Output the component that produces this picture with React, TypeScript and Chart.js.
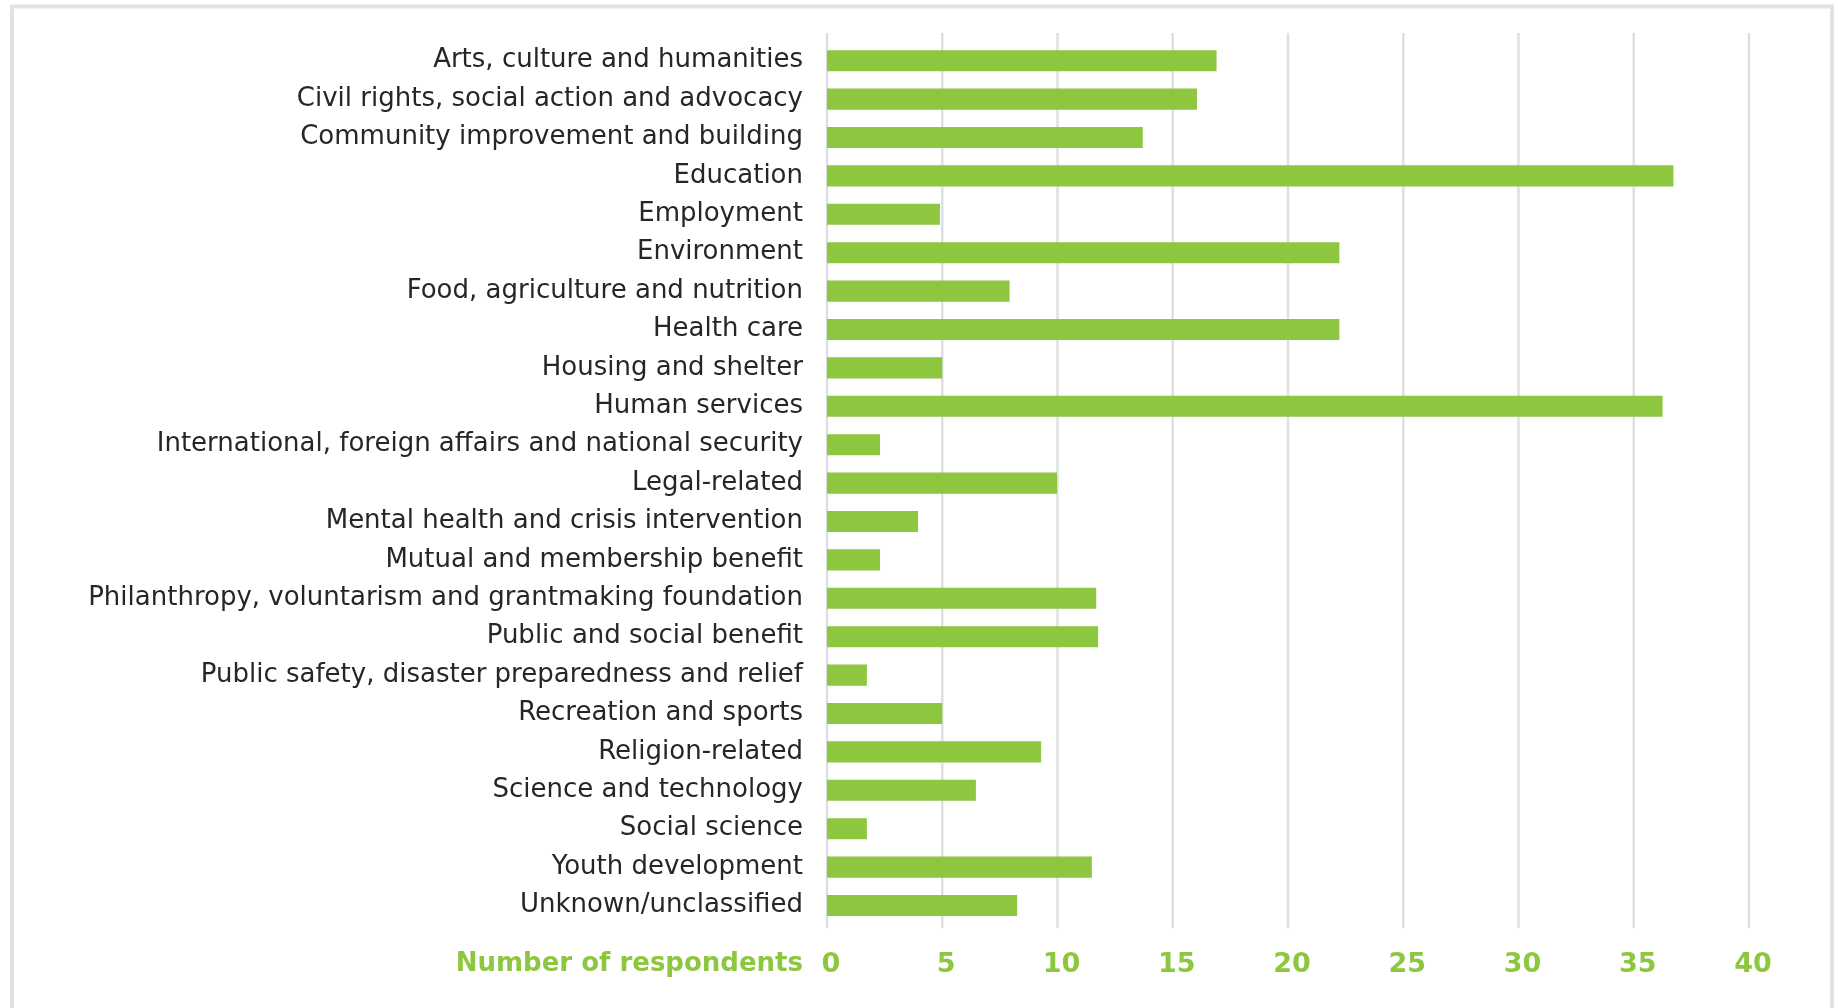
import React, { useEffect, useRef } from "react";
import { Chart, registerables } from "chart.js";

Chart.register(...registerables);

const categories = [
  "Arts, culture and humanities",
  "Civil rights, social action and advocacy",
  "Community improvement and building",
  "Education",
  "Employment",
  "Environment",
  "Food, agriculture and nutrition",
  "Health care",
  "Housing and shelter",
  "Human services",
  "International, foreign affairs and national security",
  "Legal-related",
  "Mental health and crisis intervention",
  "Mutual and membership benefit",
  "Philanthropy, voluntarism and grantmaking foundation",
  "Public and social benefit",
  "Public safety, disaster preparedness and relief",
  "Recreation and sports",
  "Religion-related",
  "Science and technology",
  "Social science",
  "Youth development",
  "Unknown/unclassified",
];

const respondents = [
  16.9, 16.05, 13.7, 36.72, 4.9, 22.23, 7.92, 22.23, 5.0, 36.25, 2.3, 9.98,
  3.95, 2.3, 11.68, 11.76, 1.73, 5.0, 9.29, 6.46, 1.73, 11.49, 8.25,
];

const xTickValues = [0, 5, 10, 15, 20, 25, 30, 35, 40];
const axisTitle = "Number of respondents";

const GREEN = "#8dc63f";
const LABEL_FONT = "'DejaVu Sans'";

export default function App() {
  const ref = useRef<HTMLCanvasElement>(null);

  useEffect(() => {
    if (!ref.current) return;

    const framePlugin = {
      id: "frame",
      beforeDraw(chart: any) {
        const ctx = chart.ctx;
        ctx.save();
        ctx.fillStyle = "#ffffff";
        ctx.fillRect(0, 0, chart.width, chart.height);
        ctx.strokeStyle = "#e1e2e6";
        ctx.lineWidth = 4;
        ctx.beginPath();
        ctx.moveTo(12, chart.height + 20);
        ctx.lineTo(12, 6.5);
        ctx.lineTo(1832, 6.5);
        ctx.lineTo(1832, chart.height + 20);
        ctx.stroke();
        ctx.restore();
      },
    };

    const gridPlugin = {
      id: "vgrid",
      beforeDatasetsDraw(chart: any) {
        const ctx = chart.ctx;
        const xs = chart.scales.x;
        const area = chart.chartArea;
        ctx.save();
        ctx.strokeStyle = "#dcdfe4";
        ctx.lineWidth = 2.5;
        xs.ticks.forEach((t: any) => {
          const px = xs.getPixelForValue(t.value);
          ctx.beginPath();
          ctx.moveTo(px, area.top - 8.5);
          ctx.lineTo(px, area.bottom + 3.5);
          ctx.stroke();
        });
        ctx.restore();
      },
    };

    const titlePlugin = {
      id: "xtitle",
      afterDraw(chart: any) {
        const ctx = chart.ctx;
        ctx.save();
        ctx.fillStyle = GREEN;
        ctx.font = `bold 26px ${LABEL_FONT}`;
        ctx.textAlign = "right";
        ctx.textBaseline = "middle";
        ctx.fillText(axisTitle, 803, 964);
        ctx.restore();
      },
    };

    const chart = new Chart(ref.current, {
      type: "bar",
      data: {
        labels: categories,
        datasets: [
          {
            data: respondents,
            backgroundColor: GREEN,
            barPercentage: 0.55,
            categoryPercentage: 1,
          },
        ],
      },
      options: {
        animation: false,
        responsive: false,
        indexAxis: "y",
        layout: { padding: { top: 41.5, right: 86, left: 0, bottom: 0 } },
        plugins: {
          legend: { display: false },
          tooltip: { enabled: false },
        },
        scales: {
          x: {
            type: "linear",
            position: "bottom",
            min: 0,
            max: 40,
            afterBuildTicks: (s: any) => {
              s.ticks = xTickValues.map((v) => ({ value: v }));
            },
            ticks: {
              color: GREEN,
              padding: 24,
              labelOffset: 4,
              maxRotation: 0,
              font: { family: LABEL_FONT, size: 27, weight: "bold" },
            },
            grid: { display: false, drawTicks: false, tickLength: 0 },
            border: { display: false },
            afterFit: (s: any) => {
              s.height = 83.3;
            },
          },
          y: {
            type: "category",
            ticks: {
              color: "#262626",
              padding: 24,
              autoSkip: false,
              font: { family: LABEL_FONT, size: 26 },
            },
            grid: { display: false, drawTicks: false, tickLength: 0 },
            border: { display: false },
            afterFit: (s: any) => {
              s.width = 827;
            },
          },
        },
      },
      plugins: [framePlugin, gridPlugin, titlePlugin],
    } as any);

    return () => chart.destroy();
  }, []);

  return (
    <canvas
      ref={ref}
      width={1835}
      height={1008}
      style={{ position: "absolute", left: 0, top: 0, width: 1835, height: 1008 }}
    />
  );
}
